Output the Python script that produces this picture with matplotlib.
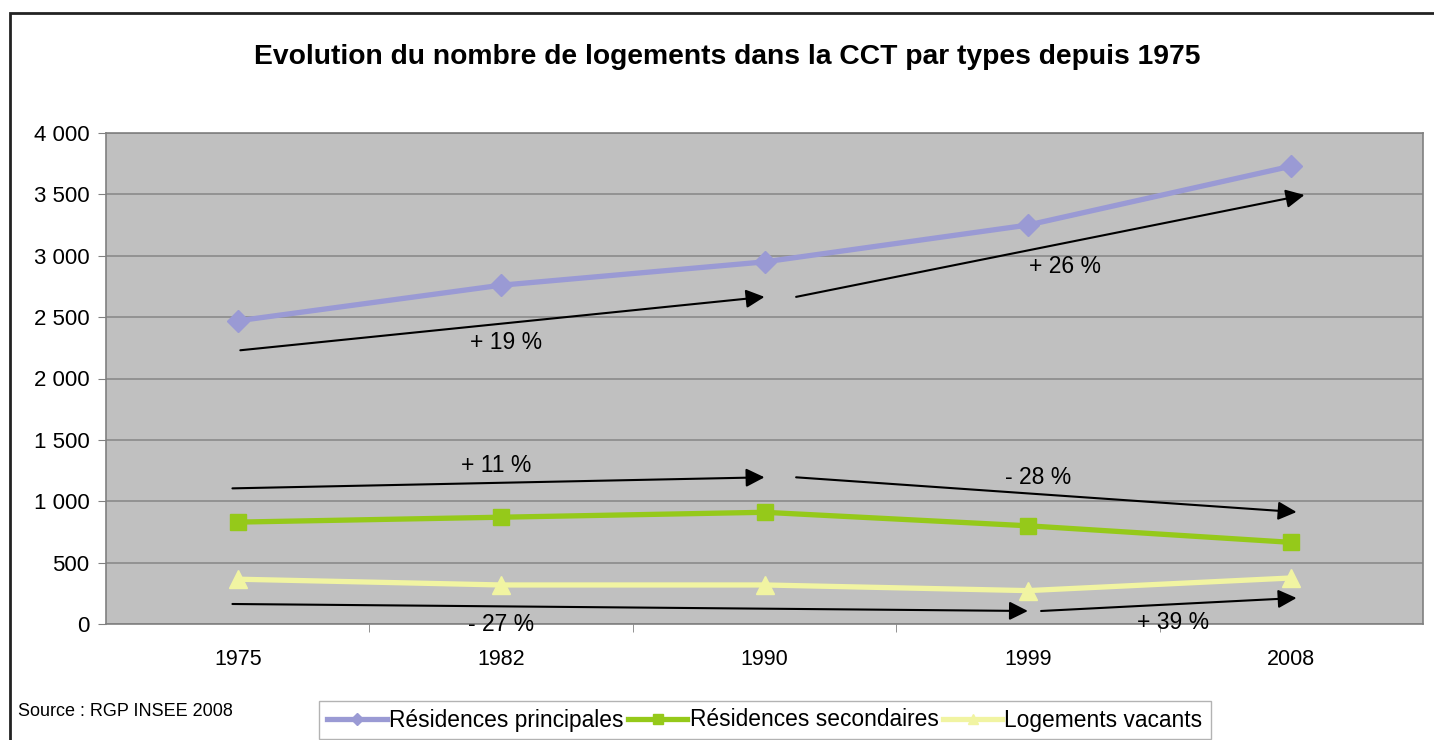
import matplotlib
matplotlib.use("Agg")
import matplotlib.pyplot as plt
from matplotlib.patches import Rectangle

# Data
annees = ["1975", "1982", "1990", "1999", "2008"]
res_principales = [2470, 2760, 2950, 3250, 3730]
res_secondaires = [830, 870, 910, 800, 665]
log_vacants = [365, 318, 318, 272, 375]

# Arrows: (x0, y0, x1, y1, label, label_x, label_y)
fleches = [
    (0.01, 2230, 2.0, 2665, "+ 19 %", 1.02, 2290),
    (2.12, 2665, 4.05, 3495, "+ 26 %", 3.14, 2915),
    (-0.02, 1105, 2.0, 1195, "+ 11 %", 0.98, 1295),
    (2.12, 1195, 4.02, 912, "- 28 %", 3.04, 1197),
    (-0.02, 163, 3.0, 106, "- 27 %", 1.0, -8),
    (3.05, 106, 4.02, 212, "+ 39 %", 3.55, 16),
]

plt.rcParams['font.family'] = ['Liberation Sans', 'DejaVu Sans']

fig = plt.figure(figsize=(14.34, 7.40), dpi=100)
ax = fig.add_axes([106 / 1434, 116 / 740, 1317 / 1434, 491 / 740])
ax.set_facecolor('#c0c0c0')

x = list(range(len(annees)))
ax.plot(x, res_principales, color='#9a9ad4', lw=3.8, marker='D', markersize=11,
        label='Résidences principales', zorder=3)
ax.plot(x, res_secondaires, color='#95c91a', lw=3.8, marker='s', markersize=12,
        label='Résidences secondaires', zorder=3)
ax.plot(x, log_vacants, color='#f1f4a2', lw=3.8, marker='^', markersize=13,
        label='Logements vacants', zorder=3)

for x0, y0, x1, y1, txt, tx, ty in fleches:
    ax.annotate('', xy=(x1, y1), xytext=(x0, y0),
                arrowprops=dict(arrowstyle='-|>', color='black', lw=1.5,
                                mutation_scale=28, shrinkA=0, shrinkB=0),
                zorder=4, annotation_clip=False)
    ax.text(tx, ty, txt, ha='center', va='center', fontsize=16.5,
            clip_on=False, zorder=5)

ax.set_xlim(-0.5, 4.5)
ax.set_ylim(0, 4000)
ax.set_yticks(range(0, 4001, 500))
ax.set_yticklabels([f"{v:,}".replace(",", " ") for v in range(0, 4001, 500)], fontsize=16)
ax.yaxis.grid(True, color='#8a8a8a', lw=1.2)
ax.set_axisbelow(True)

ax.set_xticks(x)
ax.set_xticklabels(annees, fontsize=15.5)
ax.set_xticks([0.5, 1.5, 2.5, 3.5], minor=True)
ax.tick_params(axis='x', which='major', length=0, pad=18)
ax.tick_params(axis='x', which='minor', length=6, color='#808080')
ax.tick_params(axis='y', length=6, color='#808080', pad=6)

for s in ax.spines.values():
    s.set_color('#808080')
    s.set_linewidth(1.2)

fig.text(727 / 1434, 1 - 57 / 740, "Evolution du nombre de logements dans la CCT par types depuis 1975",
         ha='center', va='center', fontsize=20.3, fontweight='bold')

fig.text(18 / 1434, 1 - 712 / 740, "Source : RGP INSEE 2008", ha='left', va='center',
         fontsize=13)

leg = fig.legend(loc='center', bbox_to_anchor=(765 / 1434, 1 - 720 / 740), ncol=3,
                 fontsize=16.4, frameon=True, fancybox=False, edgecolor='#a0a0a0',
                 handlelength=2.6, handletextpad=0.1, columnspacing=0.2,
                 borderpad=0.35, markerscale=0.6)
leg.get_frame().set_linewidth(1.0)

# outer frame
fig.patches.append(Rectangle((10 / 1434, -0.05), 1.1, 1 - 13 / 740 + 0.05,
                             transform=fig.transFigure, fill=False,
                             edgecolor='#222222', lw=2))

fig.savefig('out.png', dpi=100)
